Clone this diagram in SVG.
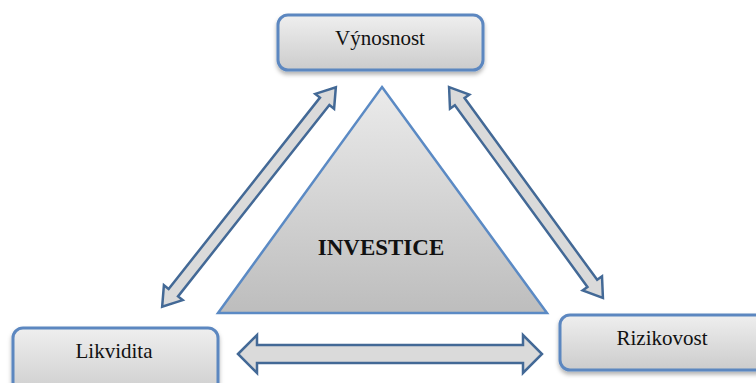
<svg xmlns="http://www.w3.org/2000/svg" width="756" height="383" viewBox="0 0 756 383">
<style>
.box{fill:url(#gBox);stroke:#5b87c0;stroke-width:3;filter:url(#sh)}
.lbl{font-family:"Liberation Serif","Times New Roman",serif;font-size:21px;fill:#111;text-anchor:middle}
.arr{fill:#dadada;stroke:#436996;stroke-width:2.5;stroke-linejoin:miter}
.tri{fill:url(#gTri);stroke:#5b8ac4;stroke-width:2.5}
</style>
<defs>
<linearGradient id="gBox" x1="0" y1="0" x2="0" y2="1">
<stop offset="0" stop-color="#efefef"/><stop offset="1" stop-color="#cccccc"/>
</linearGradient>
<linearGradient id="gTri" x1="0" y1="0" x2="0" y2="1">
<stop offset="0" stop-color="#ebebeb"/><stop offset="1" stop-color="#bdbdbd"/>
</linearGradient>
<filter id="sh" x="-10%" y="-20%" width="120%" height="150%">
<feDropShadow dx="0" dy="3" stdDeviation="2" flood-color="#000" flood-opacity="0.3"/>
</filter>
</defs>
<g id="triangle">
<polygon class="tri" points="382,87 547,313 218,313"/>
<text x="381" y="255" style="font-family:'Liberation Serif','Times New Roman',serif;font-size:23px;font-weight:bold;fill:#111;text-anchor:middle">INVESTICE</text>
</g>
<g id="vynosnost">
<rect class="box" x="278" y="15" width="205" height="55" rx="10"/>
<text class="lbl" x="380" y="45">Výnosnost</text>
</g>
<g id="likvidita">
<rect class="box" x="13" y="328" width="205" height="70" rx="10"/>
<text class="lbl" x="114" y="358">Likvidita</text>
</g>
<g id="rizikovost">
<rect class="box" x="560" y="315" width="215" height="55" rx="10"/>
<text class="lbl" x="662" y="345">Rizikovost</text>
</g>
<g id="connectors">
<path class="arr" transform="translate(249,197) rotate(-51.66)" d="M-140 0 L-122 -12 L-122 -6 L122 -6 L122 -12 L140 0 L122 12 L122 6 L-122 6 L-122 12 Z"/>
<path class="arr" transform="translate(526,192.5) rotate(53.88)" d="M-130.5 0 L-112.5 -12 L-112.5 -6 L112.5 -6 L112.5 -12 L130.5 0 L112.5 12 L112.5 6 L-112.5 6 L-112.5 12 Z"/>
<path class="arr" transform="translate(390,354)" d="M-152 0 L-133 -19 L-133 -9 L133 -9 L133 -19 L152 0 L133 19 L133 9 L-133 9 L-133 19 Z"/>
</g>
</svg>
